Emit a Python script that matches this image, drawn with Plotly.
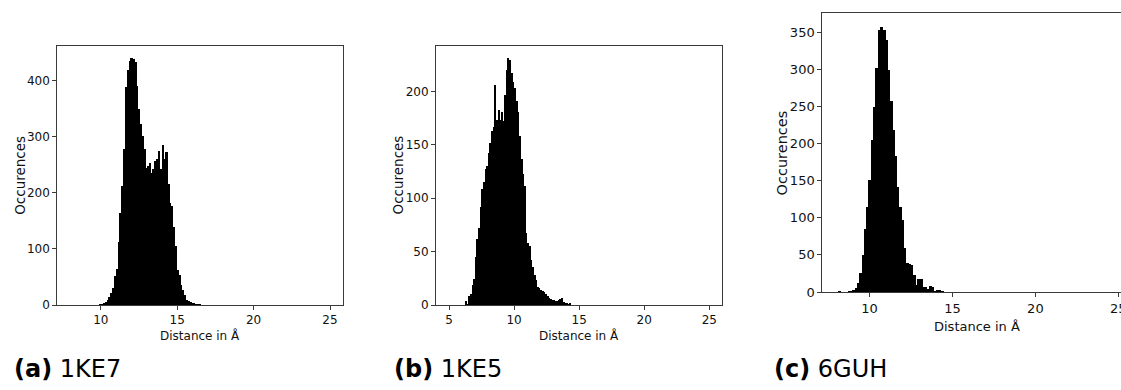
import plotly.graph_objects as go

# Histogram data: pocket distance distributions (counts per bin)
# 1KE7: bins of 0.12 Å starting at 9.92 Å
a_first_edge = 9.92
a_bin_width = 0.12
a_counts = [1, 2, 3, 5, 9, 14, 22, 30,
            52, 65, 113, 164, 212, 278, 388, 420, 436, 440, 438, 433, 391, 349, 322, 301, 278,
            245, 248, 254, 236, 242, 257, 260, 275, 242, 285, 260, 273, 215, 182, 176, 140,
            105, 63, 54, 35, 27, 18, 9, 8, 6, 4, 3, 2, 1, 1]
a_range = (8, 25)

# 1KE5: bins of 0.125 Å starting at 6.25 Å
b_first_edge = 6.25
b_bin_width = 0.125
b_counts = [4, 1, 8, 10, 19, 24, 45, 62, 72, 92,
            109, 115, 127, 130, 142, 152, 163, 167, 206, 173,
            183, 173, 181, 172, 197, 220, 231, 229, 217, 209,
            203, 191, 181, 158, 137, 123, 111, 67, 58, 55,
            42, 36, 28, 23, 17, 16, 14, 13, 12, 10,
            8, 7, 6, 5, 5, 4, 4, 5, 6, 7,
            3, 2, 2, 1, 2]
b_range = (5, 25)

# 6GUH: bins of 0.14 Å starting at 8.0 Å
c_first_edge = 8.0
c_bin_width = 0.14
c_counts = [0, 1, 0, 0, 0, 1, 1, 3, 6, 12,
            26, 50, 85, 115, 151, 205, 249, 302, 353, 358,
            353, 340, 300, 257, 219, 183, 142, 115, 97, 59,
            39, 38, 36, 23, 9, 18, 17, 7, 7, 4,
            8, 7, 2, 3, 3, 1]
c_range = (8, 25)

a_xticks = [10, 15, 20, 25]
b_xticks = [5, 10, 15, 20, 25]
c_xticks = [10, 15, 20, 25]
a_yticks = [0, 100, 200, 300, 400]
b_yticks = [0, 50, 100, 150, 200]
c_yticks = [0, 50, 100, 150, 200, 250, 300, 350]

captions = [("(a)", "1KE7"), ("(b)", "1KE5"), ("(c)", "6GUH")]
x_title = "Distance in Å"
y_title = "Occurences"

W, H = 1121, 390
FONT = "DejaVu Sans"
SPINE = "#3a3a3a"
# bars are drawn a little wider than their bin so neighbours overlap and
# no anti-aliasing seams show between adjacent black bars
BAR_OVERLAP = 1.35


def centers(first, width, counts):
    return [first + width * (i + 0.5) for i in range(len(counts))]


def padded(rng):
    span = rng[1] - rng[0]
    return [rng[0] - 0.05 * span, rng[1] + 0.05 * span]


fig = go.Figure()

panels = [
    dict(counts=a_counts, first=a_first_edge, width=a_bin_width, rng=a_range,
         xt=a_xticks, yt=a_yticks, xpx=(57.3, 343.0), ypx=(46.0, 305.0), fs=12,
         ytitle_dx=37, xtitle_dy=30.5),
    dict(counts=b_counts, first=b_first_edge, width=b_bin_width, rng=b_range,
         xt=b_xticks, yt=b_yticks, xpx=(436.0, 722.3), ypx=(46.0, 305.0), fs=12,
         ytitle_dx=38, xtitle_dy=30.5),
    dict(counts=c_counts, first=c_first_edge, width=c_bin_width, rng=c_range,
         xt=c_xticks, yt=c_yticks, xpx=(822.3, 1132.4), ypx=(13.3, 292.0), fs=13,
         ytitle_dx=40.5, xtitle_dy=34),
]

annotations = []
for n, p in enumerate(panels, start=1):
    xa = "x" if n == 1 else f"x{n}"
    ya = "y" if n == 1 else f"y{n}"
    fig.add_trace(go.Bar(
        x=centers(p["first"], p["width"], p["counts"]),
        y=p["counts"],
        width=p["width"] * BAR_OVERLAP,
        marker=dict(color="black", line=dict(width=0)),
        xaxis=xa, yaxis=ya, showlegend=False,
    ))

    x0, x1 = p["xpx"]
    xr = padded(p["rng"])
    clipped = x1 > W
    # the last panel runs past the right edge of the page and is clipped there
    if clipped:
        xr = [xr[0], xr[0] + (xr[1] - xr[0]) * (W - x0) / (x1 - x0)]
        x1 = W
    y0, y1 = p["ypx"]
    ymax = max(p["counts"]) * 1.05

    axis_common = dict(showgrid=False, zeroline=False, showline=True,
                       automargin=False,
                       linecolor=SPINE, linewidth=1, ticks="outside",
                       ticklen=4, tickwidth=1, tickcolor=SPINE,
                       ticklabeloverflow="allow",
                       tickfont=dict(family=FONT, size=p["fs"], color="#111"))
    fig.layout[f"xaxis{'' if n == 1 else n}"] = dict(
        domain=[x0 / W, x1 / W], range=xr, anchor=ya, mirror=True,
        tickvals=p["xt"], **axis_common)
    fig.layout[f"yaxis{'' if n == 1 else n}"] = dict(
        domain=[1 - y1 / H, 1 - y0 / H], range=[0, ymax], anchor=xa,
        mirror=not clipped, tickvals=p["yt"], **axis_common)

    # axis titles
    xmid = (p["xpx"][0] + p["xpx"][1]) / 2
    annotations.append(dict(
        text=x_title, x=xmid / W, y=1 - (y1 + p["xtitle_dy"]) / H,
        xref="paper", yref="paper",
        showarrow=False, xanchor="center", yanchor="middle",
        font=dict(family=FONT, size=p["fs"], color="#111")))
    annotations.append(dict(
        text=y_title, x=(x0 - p["ytitle_dx"]) / W, y=1 - (y0 + y1) / 2 / H,
        xref="paper", yref="paper",
        showarrow=False, xanchor="center", yanchor="middle", textangle=-90,
        font=dict(family=FONT, size=p["fs"] + 1.5, color="#111")))

# sub-figure captions
caption_x = [12, 392, 772]
for (tag, name), cx in zip(captions, caption_x):
    annotations.append(dict(
        text=f"<b>{tag}</b> {name}", x=cx / W, y=1 - 369 / H,
        xref="paper", yref="paper", showarrow=False,
        xanchor="left", yanchor="middle",
        font=dict(family=FONT, size=24, color="black")))

fig.update_layout(
    width=W, height=H,
    margin=dict(l=0, r=0, t=0, b=0, autoexpand=False),
    paper_bgcolor="white", plot_bgcolor="white",
    bargap=0, barmode="overlay",
    annotations=annotations,
)

fig.write_html("out.html", config={"displayModeBar": False, "staticPlot": True})
